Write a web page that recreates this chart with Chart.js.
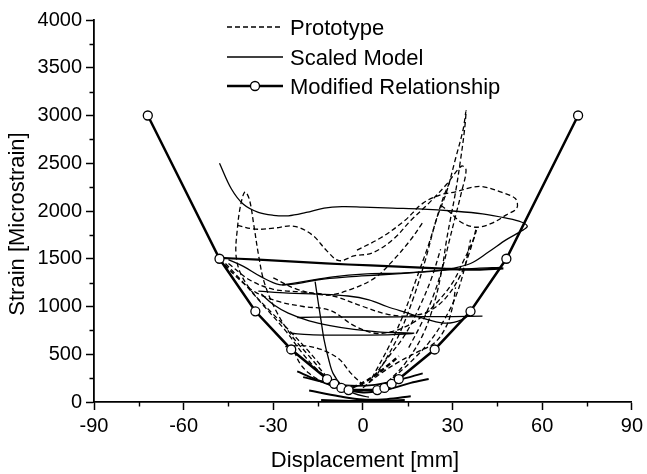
<!DOCTYPE html>
<html>
<head>
<meta charset="utf-8">
<script src="https://cdn.jsdelivr.net/npm/chart.js@4/dist/chart.umd.min.js"></script>
<style>
  html, body { margin: 0; padding: 0; background: #fff; }
  #wrap { width: 647px; height: 474px; }
</style>
</head>
<body>
<div id="wrap"><canvas id="c" width="647" height="474"></canvas></div>
<script>
// ---- Axis ticks ----
const xTicksMajor = [-90, -60, -30, 0, 30, 60, 90];
const xTicksMinor = [-75, -45, -15, 15, 45, 75];
const yTicksMinor = [250, 750, 1250, 1750, 2250, 2750, 3250, 3750];

// ---- Modified Relationship (displacement mm, strain) ----
const modifiedX = [-72, -48, -36, -24, -12, -9.6, -7.2, -4.8, 4.8, 7.2, 9.6, 12, 24, 36, 48, 72];
const modifiedY = [3000, 1500, 950, 550, 240, 190, 147, 125, 125, 147, 190, 240, 550, 950, 1500, 3000];

// ---- Prototype loops [displacement, strain] ----
const proto1 = [[-12,260],[-18,480],[-24,700],[-29,950],[-33,1250],[-35,1550],[-36.5,1850],[-38,2120],[-39.5,2200],[-41,2050],[-42,1820],[-42.5,1550],[-41,1350],[-37,1150],[-31,950],[-25,760],[-19,560],[-14,380]];
const proto2 = [[-42,1850],[-36,1810],[-30,1820],[-23,1840],[-17,1750],[-12,1580],[-8,1480],[-3,1530],[3,1560],[10,1700],[16,1900],[22,2080],[28,2280],[33,2470],[34.5,2430],[33,2200],[31,1950],[29,1700],[27,1450],[24,1150],[20,850],[15,550]];
const proto3 = [[3,250],[9,600],[14,950],[18,1300],[22,1650],[25,1950],[28,2200],[31,2550],[33.5,2850],[34.5,3050],[34,2850],[32.5,2500],[31,2200],[29.5,1950],[28,1700],[26.5,1400],[24,1050],[20,700],[14,400],[8,200]];
const proto4 = [[-2,1590],[6,1720],[14,1900],[20,2080],[26,2170],[31,2200],[36,2245],[40,2255],[46,2200],[51,2130],[51.5,2030],[48,1960],[43,1870],[38,1830],[33,1880],[29,1990],[26,2060]];
const proto5 = [[-48,1500],[-42,1300],[-36,1150],[-28,1050],[-20,1000],[-11,960],[-3,800],[4,720],[10,740],[15,800],[20,900],[25,1050],[30,1250],[34,1500],[37,1700],[38,1800]];
const proto6 = [[-45,1450],[-38,1280],[-30,1180],[-20,1150],[-10,1110],[0,1000],[8,920],[15,900],[22,950],[28,1100],[33,1350],[36,1600],[38,1830]];
const proto7 = [[-26,580],[-20,590],[-14,550],[-8,450],[-4,300],[0,180]];
const proto8 = [[0,150],[6,300],[12,420],[18,520],[24,620],[28,800],[30,1000],[31,1200]];
const proto9 = [[-23,530],[-21,400],[-18,300],[-14,220],[-8,150],[0,100]];
const proto10 = [[-6,120],[0,200],[5,300],[9,400],[12,480]];
const proto11 = [[-46,1450],[-40,1250],[-33,1000],[-26,750],[-20,500],[-15,330],[-10,220],[-4,150]];
const proto12 = [[5,300],[12,700],[17,1100],[21,1500],[24,1850],[27,2150],[29,2300]];
const proto13 = [[-30,1300],[-22,1180],[-12,1120],[-4,1180],[4,1300],[10,1480],[16,1700],[20,1880]];
const proto14 = [[2,200],[8,450],[14,700],[19,1000],[23,1300],[26,1600]];
const proto15 = [[10,250],[16,420],[22,620],[27,850],[31,1100],[34,1400],[36,1700]];

// ---- Scaled Model loops [displacement, strain] ----
const scaled1 = [[-48,2500],[-44,2230],[-40,2070],[-35,1985],[-30,1955],[-25,1950],[-19,1985],[-13,2030],[-7,2045],[0,2040],[10,2030],[20,2020],[30,2000],[40,1970],[48,1925],[53,1885],[55,1840],[53,1790],[48,1700],[42,1570],[36,1450],[30,1400],[24,1370],[12,1350],[0,1340],[-10,1310],[-20,1260],[-27,1225]];
const scaled2 = [[-48,1510],[-35,1490],[-20,1465],[-5,1440],[10,1420],[25,1400],[38,1385],[47,1400]];
const scaled3 = [[-45,1490],[-40,1420],[-34,1310],[-28,1230],[-22,1240],[-15,1280],[-5,1310],[5,1330],[15,1350],[25,1375],[38,1400],[46,1410]];
const scaled4 = [[-35,1160],[-25,1140],[-15,1130],[-5,1110],[2,1070],[8,1000],[15,930],[22,860],[28,825],[33,860],[37,940]];
const scaled5 = [[-22,885],[-10,890],[5,890],[20,893],[30,895],[40,900]];
const scaled6 = [[-34,1130],[-30,1020],[-25,930],[-18,850],[-11,800],[-3,760],[5,735],[12,725],[17,720],[10,705],[0,700],[-10,700],[-18,705],[-24,720]];
const scaled7 = [[-16,1260],[-15,1050],[-14,850],[-13,650],[-11.5,450],[-10,300],[-7,170],[-3,90],[2,50]];
const scaled8 = [[-22,320],[-16,240],[-8,150],[0,100],[8,130],[16,200],[22,240]];
const scaled9 = [[-18,120],[-8,60],[0,25],[8,30],[16,60]];
const scaled10 = [[-14,15],[0,5],[14,15]];
const scaled11 = [[-20,260],[-12,200],[-4,170],[4,180],[12,230],[20,300]];

const FONT = '"Liberation Sans", Arial, Helvetica, sans-serif';

function curve(points, extra) {
  return Object.assign({
    data: points.map(([x, y]) => ({ x, y })),
    showLine: true,
    pointRadius: 0,
    pointHoverRadius: 0,
    borderColor: '#000',
    borderWidth: 1.3,
    tension: 0.35,
    fill: false,
    order: 2,
    label: ''
  }, extra || {});
}
const dashed = { borderDash: [5, 3] };

const datasets = [
  {
    label: 'Modified Relationship',
    data: modifiedX.map((x, i) => ({ x, y: modifiedY[i] })),
    showLine: true,
    borderColor: '#000',
    borderWidth: 2.5,
    tension: 0,
    pointRadius: 4.5,
    pointBorderWidth: 1.3,
    pointBackgroundColor: '#fff',
    pointBorderColor: '#000',
    order: 0
  },
  curve(proto1, Object.assign({ label: 'Prototype' }, dashed)),
  curve(proto2, dashed), curve(proto3, dashed), curve(proto4, dashed),
  curve(proto5, dashed), curve(proto6, dashed), curve(proto7, dashed),
  curve(proto8, dashed), curve(proto9, dashed),
  curve(proto10, Object.assign({ borderWidth: 2.4 }, dashed)),
  curve(proto11, dashed), curve(proto12, dashed), curve(proto13, dashed),
  curve(proto14, dashed), curve(proto15, dashed),
  curve(scaled1, { label: 'Scaled Model' }),
  curve(scaled2, { borderWidth: 2.2 }),
  curve(scaled3), curve(scaled4), curve(scaled5), curve(scaled6),
  curve(scaled7), curve(scaled8, { borderWidth: 2 }), curve(scaled9, { borderWidth: 2 }),
  curve(scaled10, { borderWidth: 3 }), curve(scaled11, { borderWidth: 1.8 })
];

// Minor ticks, axis titles and the in-plot legend
const decorations = {
  id: 'decorations',
  afterDraw(chart) {
    const { ctx, chartArea: a } = chart;
    const xs = chart.scales.x, ys = chart.scales.y;
    ctx.save();
    ctx.strokeStyle = '#000';
    ctx.lineWidth = 1.4;
    ctx.beginPath();
    xTicksMinor.forEach(v => {
      const px = Math.round(xs.getPixelForValue(v)) + 0.5;
      ctx.moveTo(px, a.bottom); ctx.lineTo(px, a.bottom + 4.5);
    });
    yTicksMinor.forEach(v => {
      const py = Math.round(ys.getPixelForValue(v)) + 0.5;
      ctx.moveTo(a.left - 4.5, py); ctx.lineTo(a.left, py);
    });
    ctx.stroke();

    // axis titles
    ctx.fillStyle = '#000';
    ctx.font = '22px ' + FONT;
    ctx.textAlign = 'center';
    ctx.textBaseline = 'middle';
    ctx.fillText('Displacement [mm]', 365, 461);
    ctx.save();
    ctx.translate(18, 224);
    ctx.rotate(-Math.PI / 2);
    ctx.fillText('Strain [Microstrain]', 0, 0);
    ctx.restore();

    // legend
    const items = chart.data.datasets.filter(d => d.label);
    const order = ['Prototype', 'Scaled Model', 'Modified Relationship'];
    const rows = [27, 57, 86];
    ctx.textAlign = 'left';
    ctx.textBaseline = 'alphabetic';
    order.forEach((name, i) => {
      const d = items.find(it => it.label === name);
      const y = rows[i];
      ctx.save();
      ctx.strokeStyle = '#000';
      ctx.lineWidth = d.borderWidth;
      ctx.setLineDash(d.borderDash || []);
      ctx.beginPath();
      ctx.moveTo(227, y); ctx.lineTo(283, y);
      ctx.stroke();
      ctx.setLineDash([]);
      if (d.pointRadius) {
        ctx.beginPath();
        ctx.arc(255, y, d.pointRadius, 0, Math.PI * 2);
        ctx.fillStyle = '#fff';
        ctx.fill();
        ctx.lineWidth = d.pointBorderWidth;
        ctx.stroke();
      }
      ctx.restore();
      ctx.fillText(name, 290, y + 8);
    });
    ctx.restore();
  }
};

new Chart(document.getElementById('c'), {
  type: 'scatter',
  data: { datasets },
  options: {
    responsive: false,
    animation: false,
    devicePixelRatio: 1,
    layout: { padding: { top: 20, right: 9, left: 0, bottom: 0 } },
    plugins: { legend: { display: false }, tooltip: { enabled: false } },
    scales: {
      x: {
        type: 'linear',
        min: -90, max: 90,
        afterBuildTicks: s => { s.ticks = xTicksMajor.map(v => ({ value: v })); },
        afterFit: s => { s.height = 72; },
        ticks: { color: '#000', font: { family: FONT, size: 20 }, padding: 4, maxRotation: 0, callback: v => String(v) },
        grid: { drawOnChartArea: false, tickLength: 8, tickWidth: 1.5, tickColor: '#000' },
        border: { display: true, color: '#000', width: 1.8 }
      },
      y: {
        type: 'linear',
        min: 0, max: 4000,
        ticks: { stepSize: 500, color: '#000', font: { family: FONT, size: 20 }, padding: 4, callback: v => String(v) },
        afterFit: s => { s.width = 94; },
        grid: { drawOnChartArea: false, tickLength: 8, tickWidth: 1.5, tickColor: '#000' },
        border: { display: true, color: '#000', width: 1.8 }
      }
    }
  },
  plugins: [decorations]
});
</script>
</body>
</html>
